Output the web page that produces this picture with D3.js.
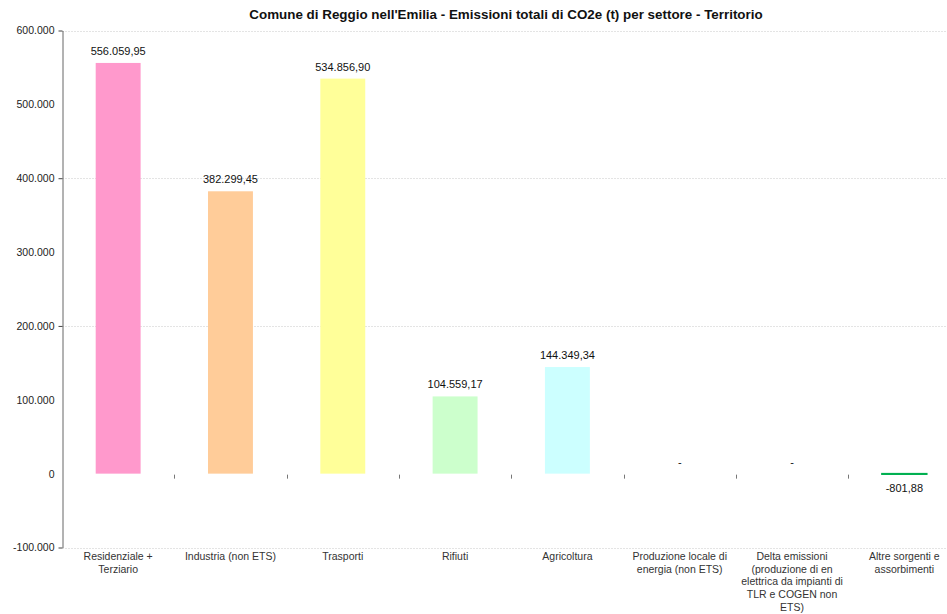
<!DOCTYPE html>
<html>
<head>
<meta charset="utf-8">
<script src="https://cdn.jsdelivr.net/npm/d3@7"></script>
<style>
  html, body { margin: 0; padding: 0; background: #fff; }
  svg { display: block; font-family: "Liberation Sans", Arial, sans-serif; }
</style>
</head>
<body>
<svg id="chart" width="947" height="614"></svg>
<script>
// Sector categories (line breaks as shown under each bar)
const categories = [
  "Residenziale +\nTerziario",
  "Industria (non ETS)",
  "Trasporti",
  "Rifiuti",
  "Agricoltura",
  "Produzione locale di\nenergia (non ETS)",
  "Delta emissioni\n(produzione di en\nelettrica da impianti di\nTLR e COGEN non\nETS)",
  "Altre sorgenti e\nassorbimenti"
];
// Total CO2e emissions (t) per sector
const emissions = [556059.95, 382299.45, 534856.90, 104559.17, 144349.34, 0, 0, -801.88];
const barColors = ["#FF99CC", "#FFCC99", "#FFFF99", "#CCFFCC", "#CCFFFF", "#CCCCFF", "#CCCCFF", "#00B050"];
const yTickValues = [-100000, 0, 100000, 200000, 300000, 400000, 500000, 600000];
const yGridValues = [-100000, 200000, 400000, 600000];

const title = "Comune di Reggio nell'Emilia - Emissioni totali di CO2e (t) per settore - Territorio";

const it = d3.formatLocale({ decimal: ",", thousands: ".", grouping: [3], currency: ["€", ""], minus: "-" });
const fmtTick = it.format(",.0f");
const fmtVal = v => v === 0 ? "-" : it.format(",.2f")(v);

const svg = d3.select("#chart");
const margin = { left: 62, top: 30.5, right: -13.5, bottom: 66.5 };
const W = 947, H = 614;

const x = d3.scaleBand()
  .domain(categories)
  .range([margin.left, W - margin.right])
  .paddingInner(0.6)
  .paddingOuter(0.3);

const y = d3.scaleLinear()
  .domain([-100000, 600000])
  .range([H - margin.bottom, margin.top]);

// title
svg.append("text")
  .attr("x", 506)
  .attr("y", 19)
  .attr("text-anchor", "middle")
  .attr("font-size", 13.4)
  .attr("font-weight", "bold")
  .attr("fill", "#111")
  .text(title);

// gridlines
svg.append("g")
  .selectAll("line")
  .data(yGridValues)
  .join("line")
  .attr("x1", margin.left)
  .attr("x2", W)
  .attr("y1", d => Math.round(y(d)) + 0.5)
  .attr("y2", d => Math.round(y(d)) + 0.5)
  .attr("stroke", "#e4e4e4")
  .attr("stroke-dasharray", "2,1");

// bars
svg.append("g")
  .selectAll("rect")
  .data(emissions)
  .join("rect")
  .attr("x", (d, i) => x(categories[i]))
  .attr("width", x.bandwidth())
  .attr("y", d => y(Math.max(0, d)))
  .attr("height", d => Math.abs(y(d) - y(0)))
  .attr("fill", (d, i) => barColors[i])
  .attr("stroke", (d, i) => d < 0 ? barColors[i] : "none")
  .attr("stroke-width", 1.5);

// value labels
svg.append("g")
  .selectAll("text")
  .data(emissions)
  .join("text")
  .attr("x", (d, i) => x(categories[i]) + x.bandwidth() / 2)
  .attr("y", d => d < 0 ? y(d) + 18 : y(d) - 8)
  .attr("text-anchor", "middle")
  .attr("font-size", 11)
  .attr("fill", "#111")
  .text(d => fmtVal(d));

// y axis
const yAxis = d3.axisLeft(y)
  .tickValues(yTickValues)
  .tickFormat(fmtTick)
  .tickSize(0)
  .tickPadding(8);
const gy = svg.append("g")
  .attr("transform", `translate(${margin.left + 0.5},0)`)
  .call(yAxis);
gy.select(".domain").attr("stroke", "#666");
gy.selectAll(".tick text").attr("font-size", 10.5).attr("fill", "#222")
  .attr("font-family", "'Liberation Sans', Arial, sans-serif");
gy.selectAll(".tick")
  .filter(d => yGridValues.includes(d))
  .append("line")
  .attr("x1", -4).attr("x2", 0)
  .attr("stroke", "#444");

// category separator ticks on the zero line
const bounds = categories.slice(1).map(c => x(c) - x.step() * x.paddingInner() / 2);
svg.append("g")
  .selectAll("line")
  .data(bounds)
  .join("line")
  .attr("x1", d => Math.round(d) + 0.5)
  .attr("x2", d => Math.round(d) + 0.5)
  .attr("y1", y(0) + 1)
  .attr("y2", y(0) + 5)
  .attr("stroke", "#777");

// category labels
const cat = svg.append("g")
  .selectAll("text")
  .data(categories)
  .join("text")
  .attr("x", c => x(c) + x.bandwidth() / 2)
  .attr("y", 560)
  .attr("text-anchor", "middle")
  .attr("font-size", 10.5)
  .attr("fill", "#333");
cat.each(function (c) {
  const t = d3.select(this);
  c.split("\n").forEach((line, i) => {
    t.append("tspan")
      .attr("x", x(c) + x.bandwidth() / 2)
      .attr("dy", i === 0 ? 0 : 12.7)
      .text(line);
  });
});
</script>
</body>
</html>
